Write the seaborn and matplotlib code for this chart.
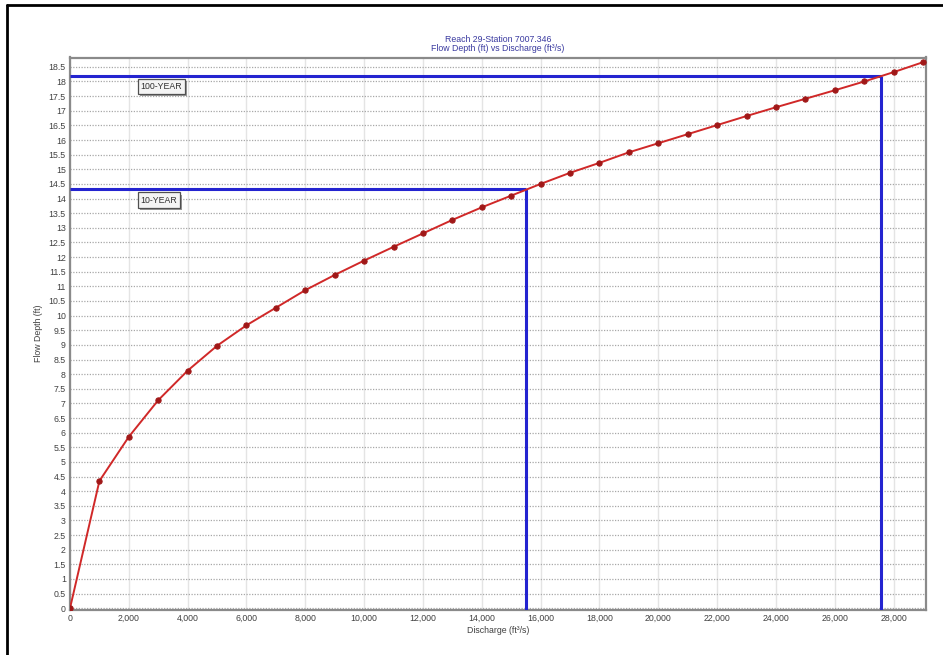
import numpy as np
import pandas as pd
import matplotlib
matplotlib.use("Agg")
import matplotlib.pyplot as plt
from matplotlib.ticker import FuncFormatter, MultipleLocator
from matplotlib.lines import Line2D
import matplotlib.patheffects as pe
import seaborn as sns

# ---- data ----
discharge = [0, 1000, 2000, 3000, 4000, 5000, 6000, 7000, 8000, 9000,
             10000, 11000, 12000, 13000, 14000, 15000, 16000, 17000, 18000, 19000,
             20000, 21000, 22000, 23000, 24000, 25000, 26000, 27000, 28000, 29000]
depth = [0, 4.35, 5.86, 7.11, 8.12, 8.97, 9.67, 10.27, 10.87, 11.39,
         11.88, 12.35, 12.81, 13.27, 13.70, 14.10, 14.50, 14.88, 15.22, 15.58,
         15.89, 16.20, 16.51, 16.82, 17.12, 17.41, 17.70, 18.00, 18.32, 18.66]
event_names = ["10-YEAR", "100-YEAR"]
event_discharge = [15500, 27580]
event_depth = [14.32, 18.19]
title_lines = ["Reach 29-Station 7007.346", "Flow Depth (ft) vs Discharge (ft\u00b3/s)"]
x_label = "Discharge (ft\u00b3/s)"
y_label = "Flow Depth (ft)"

df = pd.DataFrame({"Discharge": discharge, "Depth": depth})

sns.set_theme(style="white")
plt.rcParams['font.family'] = ['Liberation Sans', 'DejaVu Sans']

fig = plt.figure(figsize=(9.43, 6.55), dpi=100)
ax = fig.add_axes([70/943, 1-610/655, (926-70)/943, (610-57.5)/655])

# grid
ax.set_xlim(0, 29100)
ax.set_ylim(-0.06, 18.82)
ax.xaxis.set_major_locator(MultipleLocator(2000))
ax.yaxis.set_major_locator(MultipleLocator(0.5))
ax.grid(axis='x', color='#e4e4e4', lw=1.0, ls='-')
ax.grid(axis='y', color='#a8a8a8', lw=0.9, ls=(0, (1, 1.2)))
ax.set_axisbelow(True)

# curve
sns.lineplot(data=df, x="Discharge", y="Depth", ax=ax, color='#d02828',
             lw=1.4, marker='o', markersize=3.8, markerfacecolor='#a01818',
             markeredgecolor='#a01818', zorder=4)

# event lines
for q, d in zip(event_discharge, event_depth):
    ax.hlines(d, 0, q, color='#2424d0', lw=2.2, zorder=3)
    ax.vlines(q, ax.get_ylim()[0], d, color='#2424d0', lw=2.2, zorder=3)

# label boxes with drop shadow
for name, d in zip(event_names, event_depth):
    ax.text(2400, d - 0.37, name, fontsize=6.3, color='#303030', ha='left', va='center',
            zorder=6,
            bbox=dict(boxstyle='square,pad=0.35', fc='#f4f4f4', ec='#505050', lw=0.9,
                      path_effects=[pe.SimplePatchShadow(offset=(1.5, -1.5), shadow_rgbFace='#808080', alpha=0.8),
                                    pe.Normal()]))

# formatting
ax.xaxis.set_major_formatter(FuncFormatter(lambda v, p: f"{int(round(v)):,}"))
ax.yaxis.set_major_formatter(FuncFormatter(lambda v, p: f"{v:g}"))
ax.tick_params(axis='both', labelsize=6.3, labelcolor='#404040', length=0, pad=3)
ax.set_xlabel(x_label, fontsize=6.3, color='#404040', labelpad=2)
ax.set_ylabel(y_label, fontsize=6.3, color='#404040', labelpad=4)
for s in ax.spines.values():
    s.set_color('#8a8a8a')
    s.set_linewidth(1.6)

fig.text(498/943, 1-40/655, title_lines[0], ha='center', va='center', fontsize=6.3, color='#3a3aa0')
fig.text(498/943, 1-48.5/655, title_lines[1], ha='center', va='center', fontsize=6.3, color='#3a3aa0')

# outer frame (left and top)
fig.add_artist(Line2D([7/943, 7/943], [0, 1-5/655], color='black', lw=2, transform=fig.transFigure))
fig.add_artist(Line2D([7/943, 1], [1-5/655, 1-5/655], color='black', lw=2, transform=fig.transFigure))

fig.savefig("out.png", dpi=100)
